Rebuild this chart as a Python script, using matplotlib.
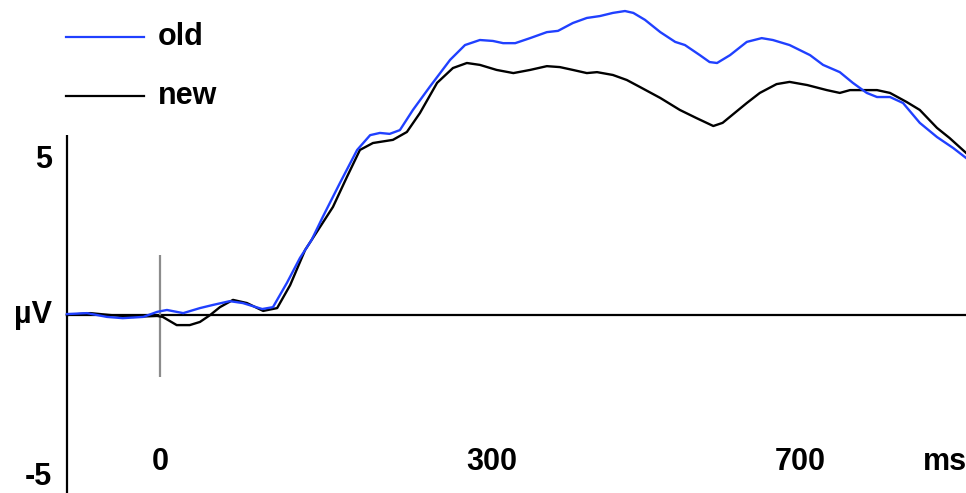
import matplotlib
matplotlib.use("Agg")
import matplotlib.pyplot as plt
import numpy as np

# time (ms) and amplitude (µV)
t_old = [-100, -78.5, -57, -40, -18, -3, 7.5, 25, 43, 57, 75, 89, 110, 121.5, 136.5, 150.5, 163, 175,
         193.5, 212, 226, 236.5, 247, 258, 272, 290, 312, 328, 344, 358, 369, 382, 398, 416, 428, 444,
         459, 473, 487, 500, 509, 521.5, 538, 554, 564.5, 580.5, 591, 599, 613, 631, 647, 659, 677,
         699, 713, 731, 745, 760, 771, 785, 799, 817, 835.5, 853, 867]
v_old = [0.03, 0.06, -0.06, -0.10, -0.06, 0.10, 0.16, 0.06, 0.22, 0.32, 0.44, 0.38, 0.19, 0.25, 1.02,
         1.81, 2.38, 3.11, 4.19, 5.24, 5.71, 5.78, 5.75, 5.87, 6.51, 7.24, 8.10, 8.57, 8.73, 8.70, 8.63,
         8.63, 8.79, 8.98, 9.02, 9.27, 9.43, 9.49, 9.59, 9.65, 9.59, 9.37, 8.98, 8.67, 8.57, 8.25, 8.03,
         8.00, 8.25, 8.67, 8.79, 8.73, 8.57, 8.25, 7.94, 7.71, 7.37, 7.05, 6.92, 6.92, 6.73, 6.10, 5.65,
         5.30, 4.98]

t_new = [-100, -75, -54, -29, -3, 3, 18, 32, 43, 54, 64.5, 78.5, 93.5, 111, 126, 140, 156, 172, 186,
         201, 215, 229, 250.5, 265.5, 279.5, 298, 315, 330, 344, 362, 380, 398, 416, 430, 444, 459, 470,
         487, 502, 516, 538, 559, 577, 595, 605, 631, 645, 663, 677, 696, 717, 731, 742, 771, 785, 803,
         817, 835.5, 849, 867]
v_new = [0, 0.06, 0, -0.06, -0.03, -0.06, -0.32, -0.32, -0.22, 0, 0.25, 0.48, 0.38, 0.13, 0.22, 0.95,
         2.06, 2.79, 3.43, 4.38, 5.24, 5.46, 5.56, 5.81, 6.41, 7.37, 7.84, 8.00, 7.94, 7.78, 7.68, 7.78,
         7.90, 7.87, 7.78, 7.68, 7.71, 7.62, 7.46, 7.24, 6.89, 6.51, 6.25, 6.00, 6.10, 6.73, 7.05, 7.33,
         7.40, 7.30, 7.14, 7.05, 7.14, 7.14, 7.05, 6.76, 6.51, 5.94, 5.62, 5.14]

series_names = ["old", "new"]
series_colors = ["#2040ff", "black"]
x_tick_labels = ["0", "300", "700", "ms"]
x_tick_pos = [0, 357, 688, 844]
y_tick_labels = ["5", "µV", "-5"]
y_tick_vals = [4.92, 0, -5.14]

plt.rcParams['font.family'] = ['Liberation Sans', 'DejaVu Sans']

fig = plt.figure(figsize=(9.66, 4.93), dpi=100)
ax = fig.add_axes([0, 0, 1, 1])
ax.set_xlim(-172, 866.7)
ax.set_ylim(-5.65, 10)
ax.axis('off')

# axes lines
ax.plot([-100, -100], [5.71, -5.65], color='black', lw=1.6, solid_capstyle='butt')
ax.plot([-100, 866.7], [0, 0], color='black', lw=1.6)
ax.plot([0, 0], [1.9, -1.97], color='#8c8c8c', lw=1.6, solid_capstyle='butt')

ax.plot(t_new, v_new, color=series_colors[1], lw=1.7, solid_joinstyle='round')
ax.plot(t_old, v_old, color=series_colors[0], lw=1.7, solid_joinstyle='round')

# legend
leg_y = [8.83, 6.95]
for name, col, yy in zip(series_names, series_colors, leg_y):
    ax.plot([-101, -17], [yy, yy], color=col, lw=1.6)
    ax.text(-2, yy, name, fontsize=22, fontweight='bold', va='center', ha='left')

for lab, pos in zip(x_tick_labels, x_tick_pos):
    ax.text(pos, -4.67, lab, fontsize=22, fontweight='bold', va='center', ha='center')
for lab, val in zip(y_tick_labels, y_tick_vals):
    ax.text(-116, val, lab, fontsize=22, fontweight='bold', va='center', ha='right')

fig.savefig("out.png", dpi=100)
